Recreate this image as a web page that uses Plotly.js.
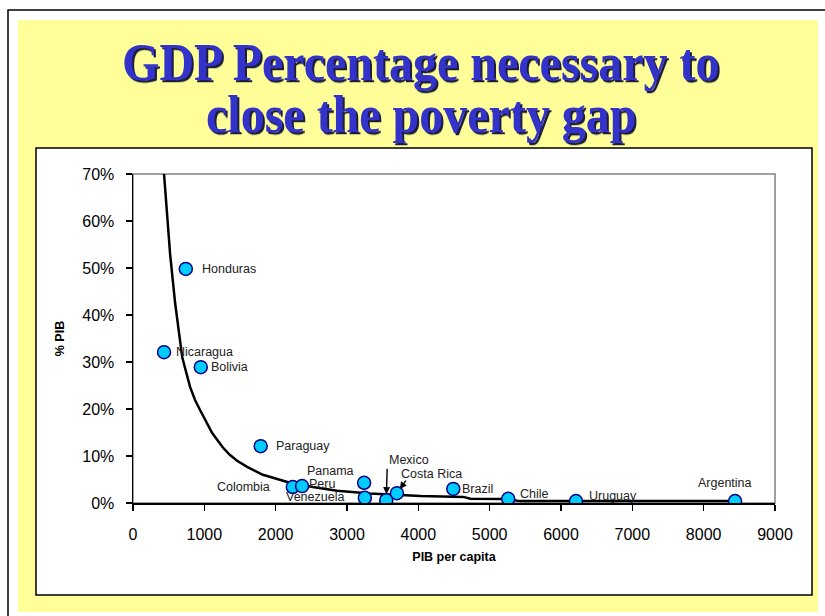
<!DOCTYPE html>
<html>
<head>
<meta charset="utf-8">
<script src="https://cdn.plot.ly/plotly-3.0.1.min.js"></script>
<style>
html,body{margin:0;padding:0;background:#fff;}
#chart{width:825px;height:616px;}
</style>
</head>
<body>
<div id="chart"></div>
<script>
// ---- data ----
const countries = ["Honduras","Nicaragua","Bolivia","Paraguay","Colombia","Peru","Panama","Venezuela","Mexico","Costa Rica","Brazil","Chile","Uruguay","Argentina"];
const gdpPerCapita = [740, 435, 950, 1790, 2240, 2370, 3240, 3250, 3550, 3700, 4490, 5260, 6210, 8440];
const pctGDP = [0.498, 0.321, 0.289, 0.121, 0.034, 0.036, 0.043, 0.011, 0.006, 0.021, 0.030, 0.009, 0.004, 0.004];

// fitted curve
const curveX = [435, 520, 590, 690, 800, 870, 940, 1010, 1110, 1260, 1360, 1460, 1600, 1820, 2060, 2200, 2520, 2860, 3320, 3460, 4030, 4630, 4730, 5190, 5430, 6130, 8440];
const curveY = [0.700, 0.530, 0.426, 0.310, 0.247, 0.219, 0.198, 0.177, 0.149, 0.118, 0.102, 0.090, 0.077, 0.060, 0.049, 0.043, 0.034, 0.026, 0.020, 0.019, 0.015, 0.013, 0.009, 0.0085, 0.004, 0.004, 0.004];

const xTickVals = [0,1000,2000,3000,4000,5000,6000,7000,8000,9000];
const yTickVals = [0,0.1,0.2,0.3,0.4,0.5,0.6,0.7];

const titleLines = ["GDP Percentage necessary to", "close the poverty gap"];
const xTitle = "PIB per capita";
const yTitle = "% PIB";

// ---- layout helpers (pixel -> paper) ----
const L = 133, R = 775, T = 174, B = 503;
const fx = px => (px - L) / (R - L);
const fy = py => (B - py) / (B - T);

// label placement (offsets in px relative to each point)
const labelPlace = {
  "Honduras":  {xa:"left",  dx:14,  dy:0},
  "Nicaragua": {xa:"left",  dx:10,  dy:0},
  "Bolivia":   {xa:"left",  dx:8,   dy:0},
  "Paraguay":  {xa:"left",  dx:13,  dy:0},
  "Colombia":  {xa:"right", dx:-21, dy:0},
  "Peru":      {xa:"left",  dx:5,   dy:2},
  "Panama":    {xa:"center",dx:-34, dy:12},
  "Venezuela": {xa:"right", dx:-19, dy:1},
  "Mexico":    {xa:"center",dx:23,  dy:40, arrow:{ax:1, ay:-33, s:6}},
  "Costa Rica":{xa:"center",dx:35,  dy:19, arrow:{ax:10, ay:-14, s:5}},
  "Brazil":    {xa:"left",  dx:7,   dy:0},
  "Chile":     {xa:"left",  dx:10,  dy:5},
  "Uruguay":   {xa:"left",  dx:11,  dy:5},
  "Argentina": {xa:"center",dx:-10, dy:18}
};

const labelFont = {family:"Liberation Sans, Arial, sans-serif", size:12.5, color:"#222"};
const annotations = [];
countries.forEach((c,i)=>{
  const p = labelPlace[c];
  annotations.push({
    x: gdpPerCapita[i], y: pctGDP[i], xref:"x", yref:"y",
    text: c, showarrow:false, xanchor:p.xa, yanchor:"middle",
    xshift:p.dx, yshift:p.dy, font:labelFont
  });
  if (p.arrow) {
    annotations.push({
      x: gdpPerCapita[i], y: pctGDP[i], xref:"x", yref:"y",
      text:"", showarrow:true, ax:p.arrow.ax, ay:p.arrow.ay,
      arrowhead:2, arrowsize:1, arrowwidth:1.4, arrowcolor:"#000", standoff:p.arrow.s
    });
  }
});

// title (shadow added after render with a drop-shadow filter)
const titleFont = {family:"Liberation Serif, Times New Roman, serif", size:48, color:"#3333CC"};
const titleY = [62, 113];
titleLines.forEach((t,k)=>{
  annotations.push({xref:"paper", yref:"paper", x:fx(421), y:fy(titleY[k]), xanchor:"center", yanchor:"middle",
    text:"<b>"+t+"</b>", showarrow:false, font:titleFont});
});

const shapes = [
  {type:"rect", xref:"paper", yref:"paper", x0:fx(8), x1:fx(840), y0:fy(10), y1:fy(640),
   line:{color:"#000", width:1.5}, fillcolor:"#ffffff", layer:"below"},
  {type:"rect", xref:"paper", yref:"paper", x0:fx(18), x1:fx(818), y0:fy(20), y1:fy(612),
   line:{width:0}, fillcolor:"#FFFF99", layer:"below"},
  {type:"rect", xref:"paper", yref:"paper", x0:fx(36), x1:fx(812), y0:fy(148), y1:fy(595),
   line:{color:"#000", width:1.5}, fillcolor:"#ffffff", layer:"below"},
  {type:"rect", xref:"paper", yref:"paper", x0:0, x1:1, y0:0, y1:1,
   line:{color:"#808080", width:1.5}, fillcolor:"rgba(0,0,0,0)", layer:"below"}
];

const traces = [
  {x:curveX, y:curveY, type:"scatter", mode:"lines", line:{color:"#000", width:2.5}, hoverinfo:"skip", showlegend:false},
  {x:gdpPerCapita, y:pctGDP, text:countries, type:"scatter", mode:"markers",
   marker:{size:13, color:"#00CCFF", line:{color:"#000080", width:1.5}}, showlegend:false}
];

const tickFont = {family:"Liberation Sans, Arial, sans-serif", size:16, color:"#000"};
const layout = {
  width:825, height:616,
  margin:{l:L, r:825-R, t:T, b:616-B, pad:0},
  paper_bgcolor:"#ffffff", plot_bgcolor:"rgba(0,0,0,0)",
  showlegend:false,
  xaxis:{range:[0,9000], tickvals:xTickVals, ticktext:xTickVals.map(String),
    showgrid:false, zeroline:false, showline:true, linecolor:"#000", linewidth:1.5,
    ticks:"outside", ticklen:6, tickcolor:"#000", tickwidth:1.2, ticklabelstandoff:10,
    tickfont:tickFont, automargin:false,
    title:{text:"<b>"+xTitle+"</b>", font:{family:"Liberation Sans, Arial, sans-serif", size:12.5, color:"#000"}, standoff:10}},
  yaxis:{range:[0,0.7], tickvals:yTickVals, tickformat:".0%",
    showgrid:false, zeroline:false, showline:true, linecolor:"#000", linewidth:1.5,
    ticks:"outside", ticklen:6, tickcolor:"#000", tickwidth:1.2, ticklabelstandoff:8,
    tickfont:tickFont, automargin:false,
    title:{text:"<b>"+yTitle+"</b>", font:{family:"Liberation Sans, Arial, sans-serif", size:12.5, color:"#000"}, standoff:15}},
  shapes:shapes, annotations:annotations
};

Plotly.newPlot("chart", traces, layout, {staticPlot:true, displayModeBar:false}).then(gd => {
  gd.querySelectorAll("text.annotation-text").forEach(t => {
    if (!titleLines.includes(t.textContent)) return;
    const bb = t.getBBox();
    const cy = bb.y + bb.height / 2;
    const prev = t.getAttribute("transform") || "";
    t.setAttribute("transform", (prev + " translate(0," + cy + ") scale(1,1.12) translate(0," + (-cy) + ")").trim());
    t.style.filter = "drop-shadow(2.5px 2.5px 0px #1e1e3c)";
  });
});
</script>
</body>
</html>
